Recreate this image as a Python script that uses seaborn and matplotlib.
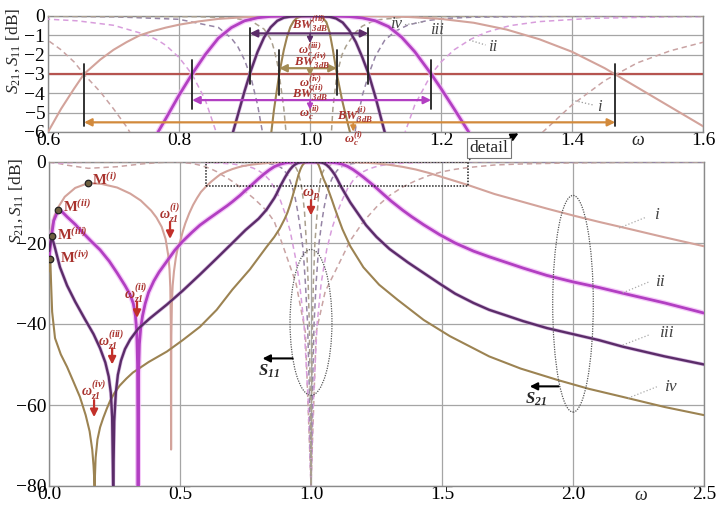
import matplotlib
matplotlib.use("Agg")
import matplotlib.pyplot as plt
import pandas as pd
import seaborn as sns
from matplotlib.patches import Rectangle, Ellipse, FancyArrowPatch
from matplotlib.ticker import AutoMinorLocator

sns.set_theme(style="white")
plt.rcParams["font.family"] = ["Liberation Serif", "DejaVu Serif"]
plt.rcParams["mathtext.fontset"] = "custom"
plt.rcParams["mathtext.rm"] = "Liberation Serif"
plt.rcParams["mathtext.it"] = "Liberation Serif:italic"
plt.rcParams["mathtext.bf"] = "Liberation Serif:bold"
plt.rcParams["mathtext.bfit"] = "Liberation Serif:bold:italic"

# ---------------- transmission |S21| in dB, four filters i..iv ----------------
w_i = [0.0, 0.004, 0.01, 0.02, 0.035, 0.06, 0.1, 0.15, 0.2, 0.26, 0.31, 0.35, 0.39, 0.41,
       0.43, 0.445, 0.455, 0.46, 0.463, 0.465, 0.466, 0.467, 0.469, 0.472, 0.477, 0.484,
       0.492, 0.5, 0.51, 0.52, 0.535, 0.55, 0.565, 0.58, 0.59, 0.6, 0.62, 0.64, 0.655,
       0.68, 0.70, 0.72, 0.74, 0.76, 0.78, 0.80, 0.83, 0.86, 0.9, 0.95, 1.0, 1.05, 1.1,
       1.15, 1.2, 1.25, 1.3, 1.35, 1.4, 1.45, 1.5, 1.55, 1.6, 1.7, 1.8, 1.9, 2.0, 2.1,
       2.2, 2.35, 2.5]
s21_i = [-26, -21, -16.5, -13.5, -11.2, -8.6, -6.4, -5.2, -5.4, -6.3, -7.8, -9.5, -12.0,
         -13.7, -16.0, -19.0, -23.0, -26.5, -31, -40, -71, -43, -35, -30.5, -27, -23.7,
         -21, -19.8, -17.3, -15.2, -12.7, -10.6, -8.9, -7.4, -6.7, -6.0, -4.8, -3.75, -3.0,
         -2.25, -1.75, -1.35, -1.0, -0.78, -0.6, -0.45, -0.28, -0.15, -0.06, -0.01, 0.0,
         0.0, -0.01, -0.05, -0.15, -0.35, -0.7, -1.2, -1.85, -2.7, -3.7, -4.7, -5.7, -7.9,
         -9.7, -11.5, -13.2, -14.8, -16.3, -18.6, -20.8]

w_ii = [0.0, 0.008, 0.018, 0.035, 0.05, 0.07, 0.1, 0.13, 0.16, 0.195, 0.23, 0.26, 0.29,
        0.31, 0.322, 0.33, 0.335, 0.338, 0.34, 0.342, 0.345, 0.35, 0.357, 0.367, 0.38, 0.4,
        0.42, 0.45, 0.48, 0.51, 0.545, 0.576, 0.61, 0.645, 0.68, 0.70, 0.73, 0.75, 0.768,
        0.78, 0.80, 0.82, 0.84, 0.86, 0.88, 0.90, 0.92, 0.94, 0.97, 1.0, 1.03, 1.06, 1.08,
        1.1, 1.12, 1.14, 1.16, 1.185, 1.2, 1.22, 1.246, 1.27, 1.305, 1.35, 1.384, 1.43,
        1.49, 1.55, 1.62, 1.68, 1.75, 1.81, 1.9, 2.0, 2.1, 2.19, 2.35, 2.5]
s21_ii = [-24, -19, -14.5, -11.9, -12.3, -13.6, -15.4, -17.5, -19.5, -21.7, -24.5, -27.4,
          -30.5, -32.8, -35, -38, -42, -50, -80, -52, -45, -41, -38, -35, -32.2, -29.4,
          -27.2, -24.5, -21.8, -19.6, -17.4, -15.6, -14.0, -12.4, -10.8, -9.8, -8.2, -7.0,
          -6.0, -5.3, -4.1, -3.0, -2.0, -1.15, -0.6, -0.25, -0.09, -0.02, 0.0, 0.0, 0.0,
          -0.03, -0.1, -0.25, -0.55, -1.1, -1.85, -3.0, -3.75, -4.8, -6.2, -7.6, -9.6,
          -11.9, -13.5, -15.5, -17.9, -20, -22, -23.4, -24.9, -26.2, -28, -29.6, -31,
          -32.4, -34.8, -37.3]

w_iii = [0.0, 0.01, 0.02, 0.042, 0.069, 0.1, 0.137, 0.17, 0.195, 0.215, 0.228, 0.236, 0.241,
         0.245, 0.249, 0.255, 0.263, 0.275, 0.29, 0.31, 0.34, 0.385, 0.45, 0.51, 0.576,
         0.64, 0.70, 0.75, 0.80, 0.83, 0.86, 0.87, 0.88, 0.89, 0.9, 0.91, 0.92, 0.93, 0.94,
         0.95, 0.96, 0.97, 0.985, 1.0, 1.015, 1.03, 1.04, 1.05, 1.06, 1.07, 1.08, 1.09,
         1.1, 1.114, 1.13, 1.15, 1.18, 1.21, 1.25, 1.3, 1.37, 1.43, 1.49, 1.55, 1.62, 1.68,
         1.75, 1.81, 1.9, 2.0, 2.1, 2.19, 2.35, 2.5]
s21_iii = [-22, -18.3, -20.5, -26, -30.5, -34.5, -38.8, -42.5, -46, -49.5, -53, -57, -63,
           -80, -64, -57, -52.5, -49, -46.2, -43.8, -41.2, -38.6, -35.2, -31.8, -27.8,
           -23.8, -20, -16.8, -14, -11.8, -8.9, -7.7, -6.3, -5.1, -3.9, -2.8, -1.85, -1.1,
           -0.58, -0.25, -0.09, -0.03, 0.0, 0.0, -0.01, -0.04, -0.13, -0.34, -0.75, -1.35,
           -2.15, -3.05, -4.2, -6.0, -7.8, -10, -12.8, -15.6, -18.5, -21.5, -24.8, -27.4,
           -30, -32.5, -34.8, -36.5, -38, -39.3, -41, -42.5, -44, -45.6, -48, -50]

w_iv = [0.0, 0.005, 0.008, 0.012, 0.023, 0.045, 0.069, 0.095, 0.118, 0.14, 0.155, 0.165,
        0.17, 0.174, 0.178, 0.185, 0.195, 0.207, 0.22, 0.233, 0.25, 0.27, 0.295, 0.32, 0.35,
        0.38, 0.415, 0.45, 0.51, 0.576, 0.64, 0.70, 0.767, 0.83, 0.86, 0.88, 0.9, 0.91,
        0.92, 0.93, 0.935, 0.941, 0.945, 0.95, 0.953, 0.96, 0.965, 0.97, 0.975, 0.98, 0.987,
        1.0, 1.01, 1.015, 1.02, 1.025, 1.03, 1.035, 1.041, 1.049, 1.055, 1.061, 1.07, 1.08,
        1.09, 1.1, 1.12, 1.15, 1.2, 1.26, 1.33, 1.43, 1.53, 1.68, 1.8, 1.94, 2.06, 2.19,
        2.35, 2.5]
s21_iv = [-27, -24, -30, -37, -43.5, -47.5, -50.6, -54.5, -58, -62.5, -66.5, -71, -75, -80,
          -73, -68.5, -65.5, -63.2, -61, -59, -57, -55.2, -53.5, -52, -50.7, -49.4, -48.1,
          -46.8, -44, -40.7, -36.5, -31.5, -26.5, -21, -18.5, -16.5, -14, -12.5, -10.6, -8.4,
          -7.2, -6.0, -4.85, -3.7, -3.0, -1.76, -1.07, -0.57, -0.27, -0.1, -0.02, 0.0, -0.01,
          -0.04, -0.12, -0.32, -0.85, -1.76, -3.0, -4.35, -5.2, -6.0, -7.6, -9.4, -11.3,
          -13.1, -16.6, -20.8, -26.0, -30.3, -34, -39, -43, -48, -51, -53.8, -56, -58,
          -60.5, -62.5]

# ---------------- reflection |S11| in dB ----------------
w11_i = [0.0, 0.035, 0.07, 0.15, 0.26, 0.35, 0.42, 0.466, 0.5, 0.55, 0.58, 0.6, 0.62, 0.64,
         0.655, 0.68, 0.70, 0.72, 0.74, 0.76, 0.78, 0.80, 0.83, 0.86, 0.9, 0.943, 0.9785,
         1.0, 1.0197, 1.054, 1.1, 1.15, 1.2, 1.25, 1.3, 1.35, 1.4, 1.45, 1.5, 1.55, 1.6,
         1.7, 1.8, 2.0, 2.2, 2.5]
s11_i = [-0.01, -0.34, -0.8, -1.56, -1.17, -0.5, -0.15, 0.0, -0.05, -0.4, -0.86, -1.26,
         -1.75, -2.38, -3.02, -3.93, -4.8, -5.73, -6.87, -7.84, -8.9, -10.1, -12.0, -14.7,
         -22, -30, -42, -80, -42, -32, -26, -19.4, -14.7, -11.1, -8.27, -6.17, -4.6, -3.34,
         -2.42, -1.8, -1.36, -0.74, -0.49, -0.21, -0.1, -0.036]

w11_ii = [0.0, 0.035, 0.1, 0.2, 0.34, 0.45, 0.576, 0.645, 0.70, 0.75, 0.768, 0.78, 0.80,
          0.82, 0.84, 0.86, 0.88, 0.90, 0.92, 0.94, 0.9564, 0.9734, 0.99, 1.0, 1.0085,
          1.0233, 1.0387, 1.06, 1.08, 1.1, 1.12, 1.14, 1.16, 1.185, 1.2, 1.22, 1.246, 1.27,
          1.305, 1.35, 1.43, 1.55, 1.8, 2.5]
s11_ii = [-0.02, -0.3, -0.13, -0.03, 0.0, -0.015, -0.12, -0.25, -0.48, -0.97, -1.26, -1.52,
          -2.14, -3.02, -4.33, -6.33, -8.9, -12.5, -16.9, -23.4, -30, -40, -60, -80, -60,
          -40, -30, -21.6, -16.4, -12.5, -9.25, -6.5, -4.6, -3.02, -2.38, -1.75, -1.19,
          -0.83, -0.5, -0.29, -0.12, -0.04, -0.01, 0.0]

w11_iii = [0.0, 0.01, 0.05, 0.6, 0.70, 0.80, 0.86, 0.88, 0.89, 0.9, 0.91, 0.92, 0.93, 0.94,
           0.95, 0.96, 0.97, 0.9787, 0.987, 0.9952, 1.0, 1.0043, 1.0116, 1.0194, 1.03, 1.04,
           1.05, 1.06, 1.07, 1.08, 1.09, 1.1, 1.114, 1.13, 1.15, 1.18, 1.21, 1.25, 1.35,
           1.6, 2.5]
s11_iii = [-0.03, -0.07, -0.01, -0.01, -0.04, -0.17, -0.59, -1.15, -1.6, -2.27, -3.2, -4.6,
           -6.5, -9.0, -12.5, -16.9, -21.6, -30, -40, -60, -80, -60, -40, -30, -20.4, -15.3,
           -11.2, -8.0, -5.73, -4.1, -2.98, -2.07, -1.26, -0.79, -0.46, -0.23, -0.12, -0.06,
           -0.02, -0.003, 0.0]

w11_iv = [0.0, 0.5, 0.83, 0.88, 0.91, 0.93, 0.941, 0.945, 0.95, 0.953, 0.96, 0.965, 0.97,
          0.975, 0.9825, 0.9893, 0.9935, 0.9976, 1.0, 1.002, 1.0054, 1.0089, 1.0148, 1.02,
          1.025, 1.03, 1.035, 1.041, 1.049, 1.055, 1.061, 1.07, 1.08, 1.1, 1.15, 1.3, 2.5]
s11_iv = [-0.01, 0.0, -0.035, -0.1, -0.25, -0.68, -1.26, -1.72, -2.42, -3.02, -4.77, -6.6,
          -9.1, -12.1, -20, -30, -40, -60, -80, -60, -40, -30, -20, -15.6, -11.5, -7.5,
          -4.77, -3.02, -1.99, -1.56, -1.26, -0.83, -0.52, -0.21, -0.036, 0.0, 0.0]

# lower-stopband maxima M, 3 dB band edges, transmission zeros
m_names = ["i", "ii", "iii", "iv"]
m_w = [0.15, 0.035, 0.01, 0.005]
m_db = [-5.2, -11.9, -18.3, -24.0]
bw_lo = [0.655, 0.82, 0.908, 0.953]
bw_hi = [1.466, 1.185, 1.089, 1.041]
wz1 = [0.462, 0.336, 0.241, 0.172]
w_p = 1.0

# ---------------- styling ----------------
C_S21 = {"i": "#d3a39b", "ii": "#b23fc2", "iii": "#5b2c69", "iv": "#9c8352"}
HALO = {"ii": ("#f2b6f7", 3.8), "iii": ("#c9a0d6", 2.7)}
LW = {"i": 1.5, "ii": 2.0, "iii": 1.7, "iv": 1.5}
C_S11 = {"i": "#c9a3a3", "ii": "#d89ddc", "iii": "#9685a6", "iv": "#aaa08e"}
RED = "#c2302a"
TXT = "#a8322d"
GRID = "#a5a5a5"

series21 = {"i": (w_i, s21_i), "ii": (w_ii, s21_ii), "iii": (w_iii, s21_iii),
            "iv": (w_iv, s21_iv)}
series11 = {"i": (w11_i, s11_i), "ii": (w11_ii, s11_ii), "iii": (w11_iii, s11_iii),
            "iv": (w11_iv, s11_iv)}


def frame(w, db):
    return pd.DataFrame({"w": w, "db": db})


def draw_curves(ax):
    for k in ["i", "ii", "iii", "iv"]:
        w, s = series11[k]
        sns.lineplot(data=frame(w, s), x="w", y="db", ax=ax, color=C_S11[k], lw=1.1,
                     linestyle=(0, (3.5, 2.5)), sort=False, estimator=None, zorder=3)
    for k in ["i", "iv", "ii", "iii"]:
        w, s = series21[k]
        df = frame(w, s)
        if k in HALO:
            hc, hw = HALO[k]
            sns.lineplot(data=df, x="w", y="db", ax=ax, color=hc, lw=hw,
                         sort=False, estimator=None, zorder=4, alpha=0.7)
        sns.lineplot(data=df, x="w", y="db", ax=ax, color=C_S21[k], lw=LW[k],
                     sort=False, estimator=None, zorder=5)
    ax.set_xlabel("")
    ax.set_ylabel("")


def style_axes(ax):
    for sp in ax.spines.values():
        sp.set_color("#8a8a8a")
        sp.set_linewidth(1.0)
    ax.tick_params(which="both", direction="in", colors="#777777", labelcolor="black",
                   labelsize=14, top=False, right=False)
    ax.tick_params(which="major", length=4)
    ax.tick_params(which="minor", length=2)
    ax.grid(True, which="major", color=GRID, lw=0.9)


fig = plt.figure(figsize=(7.16, 5.05), dpi=100)
ax1 = fig.add_axes([48 / 716, 1 - 132 / 505, 655 / 716, 116 / 505])
ax2 = fig.add_axes([49 / 716, 1 - 486 / 505, 655 / 716, 324 / 505])

# ================= top panel: passband detail =================
draw_curves(ax1)
ax1.axhline(-3, color="#b65450", lw=1.6, zorder=2)
ax1.set_xlim(0.6, 1.6)
ax1.set_ylim(-6, 0)
ax1.set_xticks([0.6, 0.8, 1.0, 1.2, 1.4, 1.6])
ax1.set_xticklabels(["0.6", "0.8", "1.0", "1.2", "1.4", "1.6"])
ax1.set_yticks([0, -1, -2, -3, -4, -5, -6])
ax1.set_yticklabels(["0", "\u22121", "\u22122", "\u22123", "\u22124", "\u22125", "\u22126"])
ax1.xaxis.set_minor_locator(AutoMinorLocator(4))
style_axes(ax1)
ax1.tick_params(axis="x", pad=0)
ax1.tick_params(axis="y", pad=2)
ax1.set_ylabel(r"$S_{21},S_{11}$ [dB]", fontsize=12.5, loc="top")
ax1.yaxis.set_label_coords(-0.040, 1.07)
ax1.text(1.5, -6.67, r"$\omega$", fontsize=13, ha="center", va="baseline")

# 3 dB bandwidth markers
bw_y = [-5.5, -4.35, -0.9, -2.7]
bw_span = [(-2.5, -5.7), (-2.3, -4.8), (-0.6, -3.5), (-1.75, -4.1)]
bw_col = ["#d28a3c", "#b23fc2", "#5b2c69", "#a38c55"]
for lo, hi, y, (ya, yb), c in zip(bw_lo, bw_hi, bw_y, bw_span, bw_col):
    for xe in (lo, hi):
        ax1.plot([xe, xe], [ya, yb], color="#222222", lw=1.3, zorder=6)
    ax1.annotate("", xy=(hi, y), xytext=(lo, y),
                 arrowprops=dict(arrowstyle="<|-|>", color=c, lw=1.6, mutation_scale=11,
                                 shrinkA=0, shrinkB=0), zorder=7)

lab_kw = dict(color=TXT, fontsize=9, ha="center", va="center", zorder=8)
ax1.text(1.0, -0.42, r"$\mathbfit{BW}_{\mathbfit{3dB}}^{\mathbfit{(iii)}}$", **lab_kw)
ax1.text(1.0, -1.75, r"$\mathbfit{\omega}_{\mathbfit{c}}^{\mathbfit{(iii)}}$", **lab_kw)
ax1.text(1.003, -2.33, r"$\mathbfit{BW}_{\mathbfit{3dB}}^{\mathbfit{(iv)}}$", **lab_kw)
ax1.text(1.0, -3.45, r"$\mathbfit{\omega}_{\mathbfit{c}}^{\mathbfit{(iv)}}$", **lab_kw)
ax1.text(1.0, -3.97, r"$\mathbfit{BW}_{\mathbfit{3dB}}^{\mathbfit{(ii)}}$", **lab_kw)
ax1.text(1.0, -5.0, r"$\mathbfit{\omega}_{\mathbfit{c}}^{\mathbfit{(ii)}}$", **lab_kw)
ax1.text(1.068, -5.1, r"$\mathbfit{BW}_{\mathbfit{3dB}}^{\mathbfit{(i)}}$", **lab_kw)
lab_out = dict(lab_kw)
lab_out["clip_on"] = False
ax1.text(1.066, -6.35, r"$\mathbfit{\omega}_{\mathbfit{c}}^{\mathbfit{(i)}}$", **lab_out)

small = [((1.0, -0.95), (1.0, -1.4), "#5b2c69"), ((1.0, -2.75), (1.0, -3.1), "#a38c55"),
         ((1.0, -4.4), (1.0, -4.85), "#b23fc2"), ((1.066, -5.55), (1.066, -5.98), "#d28a3c")]
for (x0, y0), (x1, y1), c in small:
    ax1.annotate("", xy=(x1, y1), xytext=(x0, y0),
                 arrowprops=dict(arrowstyle="-|>", color=c, lw=1.3, mutation_scale=8,
                                 shrinkA=0, shrinkB=0), zorder=8)

# curve tags in the detail panel
tag_kw = dict(fontsize=12, style="italic", color="#444444", ha="center", va="center", zorder=8)
ax1.text(1.131, -0.42, "iv", **tag_kw)
ax1.plot([1.145, 1.175], [-0.45, -0.3], color="#999999", lw=0.9, ls=":", zorder=8)
ax1.text(1.194, -0.72, "iii", **tag_kw)
ax1.text(1.279, -1.6, "ii", **tag_kw)
ax1.plot([1.243, 1.268], [-1.24, -1.5], color="#999999", lw=0.9, ls=":", zorder=8)
ax1.text(1.442, -4.7, "i", **tag_kw)
ax1.plot([1.40, 1.432], [-4.35, -4.6], color="#999999", lw=0.9, ls=":", zorder=8)

# ================= bottom panel: full response =================
draw_curves(ax2)
ax2.set_xlim(0, 2.5)
ax2.set_ylim(-80, 0)
ax2.set_xticks([0, 0.5, 1.0, 1.5, 2.0, 2.5])
ax2.set_xticklabels(["0.0", "0.5", "1.0", "1.5", "2.0", "2.5"])
ax2.set_yticks([0, -20, -40, -60, -80])
ax2.set_yticklabels(["0", "\u221220", "\u221240", "\u221260", "\u221280"])
ax2.xaxis.set_minor_locator(AutoMinorLocator(5))
ax2.yaxis.set_minor_locator(AutoMinorLocator(4))
style_axes(ax2)
ax2.tick_params(axis="x", pad=0)
ax2.tick_params(axis="y", pad=2)
ax2.set_ylabel(r"$S_{21},S_{11}$ [dB]", fontsize=12.5, loc="top")
ax2.yaxis.set_label_coords(-0.037, 1.012)
ax2.text(2.26, -83.4, r"$\omega$", fontsize=13, ha="center", va="baseline")

# stopband maxima
sns.scatterplot(x=m_w, y=m_db, ax=ax2, s=22, color="#6e6040", edgecolor="#222222",
                linewidth=0.9, zorder=9, legend=False)
ax2.set_xlabel("")
m_lab = [(0.165, -4.4), (0.054, -11.0), (0.03, -18.0), (0.042, -23.6)]
for k, (x, y) in zip(m_names, m_lab):
    ax2.text(x, y, r"$\mathbf{M}^{\mathbfit{(%s)}}$" % k, color=TXT, fontsize=10.5,
             ha="left", va="center", zorder=9)

# transmission zero and centre markers
z_txt = [-12.6, -32.5, -44.0, -56.5]
z_arr = [(-14.8, -19.0), (-34.5, -38.5), (-46.0, -50.0), (-58.8, -63.0)]
for k, wz, yt, (ya, yb) in zip(m_names, wz1, z_txt, z_arr):
    ax2.text(wz - 0.004, yt, r"$\mathbfit{\omega}_{\mathbfit{z1}}^{\mathbfit{(%s)}}$" % k,
             color=TXT, fontsize=10, ha="center", va="center", zorder=9)
    ax2.annotate("", xy=(wz, yb), xytext=(wz, ya),
                 arrowprops=dict(arrowstyle="-|>", color=RED, lw=1.6, mutation_scale=11,
                                 shrinkA=0, shrinkB=0), zorder=9)
ax2.text(w_p, -7.8, r"$\mathbfit{\omega}_{\mathbfit{p}}$", color=TXT, fontsize=11,
         ha="center", va="center", zorder=9)
ax2.annotate("", xy=(w_p, -13.2), xytext=(w_p, -9.4),
             arrowprops=dict(arrowstyle="-|>", color=RED, lw=1.6, mutation_scale=11,
                             shrinkA=0, shrinkB=0), zorder=9)

# detail window, groupings and S-parameter pointers
ax2.add_patch(Rectangle((0.6, -6), 1.0, 6, fill=False, ls=(0, (1, 1)), lw=1.1,
                        ec="#222222", zorder=6))
ax2.add_patch(Ellipse((1.0, -39.6), 0.16, 36, fill=False, ls=(0, (1, 1)), lw=0.9,
                      ec="#555555", zorder=6))
ax2.add_patch(Ellipse((2.0, -35.0), 0.155, 53.5, fill=False, ls=(0, (1, 1)), lw=0.9,
                      ec="#555555", zorder=6))
ax2.annotate("", xy=(0.815, -48.5), xytext=(0.93, -48.5),
             arrowprops=dict(arrowstyle="-|>", color="black", lw=1.5, mutation_scale=11,
                             shrinkA=0, shrinkB=0), zorder=9)
ax2.text(0.84, -51.8, r"$\mathbfit{S}_{\mathbfit{11}}$", fontsize=12, ha="center",
         va="center", zorder=9)
ax2.annotate("", xy=(1.835, -55.4), xytext=(1.945, -55.4),
             arrowprops=dict(arrowstyle="-|>", color="black", lw=1.5, mutation_scale=11,
                             shrinkA=0, shrinkB=0), zorder=9)
ax2.text(1.86, -58.6, r"$\mathbfit{S}_{\mathbfit{21}}$", fontsize=12, ha="center",
         va="center", zorder=9)

tags = [("i", (2.176, -16.3), (2.28, -13.6), (2.318, -13.1)),
        ("ii", (2.19, -32.3), (2.29, -29.6), (2.33, -29.6)),
        ("iii", (2.19, -45.2), (2.29, -42.7), (2.355, -42.3)),
        ("iv", (2.21, -58.3), (2.32, -55.5), (2.37, -55.5))]
for t, p0, p1, pt in tags:
    ax2.plot([p0[0], p1[0]], [p0[1], p1[1]], color="#aaaaaa", lw=0.9, ls=":", zorder=8)
    ax2.text(pt[0], pt[1], t, fontsize=12.5, style="italic", color="#444444",
             ha="center", va="center", zorder=8)

# "detail" callout between the panels
fig.text(489 / 716, 1 - 148 / 505, "detail", fontsize=12.5, ha="center", va="center",
         bbox=dict(boxstyle="square,pad=0.12", fc="white", ec="#777777", lw=0.8))
fig.add_artist(FancyArrowPatch((508 / 716, 1 - 139 / 505), (521 / 716, 1 - 132 / 505),
                               transform=fig.transFigure, arrowstyle="-|>",
                               mutation_scale=11, color="black", lw=1.4))
fig.add_artist(FancyArrowPatch((468 / 716, 1 - 162 / 505), (472 / 716, 1 - 156 / 505),
                               transform=fig.transFigure, arrowstyle="-", color="#333333",
                               lw=1.0))

fig.savefig("out.png", dpi=100)
